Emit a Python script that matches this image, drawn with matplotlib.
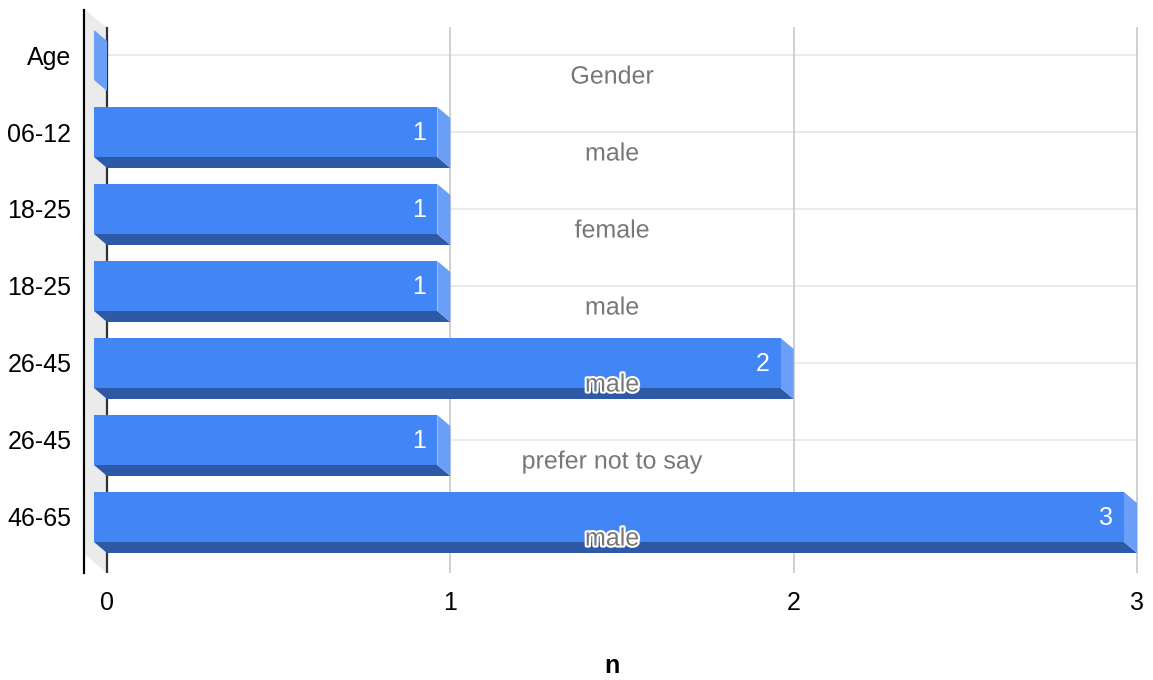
import matplotlib
matplotlib.use('Agg')
import matplotlib.pyplot as plt
import matplotlib.patheffects as pe
from matplotlib.patches import Polygon, Rectangle
from matplotlib.transforms import blended_transform_factory
plt.rcParams['font.family'] = ['Liberation Sans', 'DejaVu Sans']

# data
ages = ['Age', '06-12', '18-25', '18-25', '26-45', '26-45', '46-65']
genders = ['Gender', 'male', 'female', 'male', 'male', 'prefer not to say', 'male']
counts = [0, 1, 1, 1, 2, 1, 3]
xticks = [0, 1, 2, 3]

front_c = '#4285f4'
side_c = '#6b9ff7'
bottom_c = '#2d59a6'
wall_c = '#ebebeb'
fs = 18

W, H = 1153, 680
fig = plt.figure(figsize=(W / 100, H / 100), dpi=100)
# plot box in pixels: left 84, right 1140, top 10, bottom 573
ax = fig.add_axes([84 / W, 1 - 573 / H, (1140 - 84) / W, (573 - 10) / H])
ppx = (1137 - 107) / 3.0      # pixels per unit on x
ppy = 77.0                    # pixels per row
ax.set_xlim(-23 / ppx, 3 + 3 / ppx)
ax.set_ylim(6 + (573 - 517) / ppy, -(55 - 10) / ppy)

x0, x1 = ax.get_xlim()
ybot, ytop = ax.get_ylim()
DX = 13 / ppx     # 3d depth of bars
DY = 11 / ppy
WY = 18 / ppy     # slant of left wall
h = 25 / ppy      # half bar height

for s in ax.spines.values():
    s.set_visible(False)

# left wall and lines
ax.add_patch(Polygon([(x0 + 1.5 / ppx, ytop), (0, ytop + WY), (0, ybot), (x0 + 1.5 / ppx, ybot - WY)],
                     closed=True, facecolor=wall_c, edgecolor='none', zorder=0))
for i in range(len(ages)):
    ax.plot([0, 3], [i, i], color='#e6e6e6', lw=1.2, zorder=0.5)
for xt in xticks[1:]:
    ax.plot([xt, xt], [ytop + WY, ybot], color='#cccccc', lw=1.3, zorder=0.5)
ax.plot([0, 0], [ytop + WY, ybot], color='#333333', lw=1.6, zorder=0.6)
ax.plot([x0, x0], [ytop, ybot], color='black', lw=1.6, zorder=0.6, clip_on=False)

# 3d bars
for i, v in enumerate(counts):
    ax.add_patch(Polygon([(-DX, i + h), (v - DX, i + h), (v, i + h + DY), (0, i + h + DY)],
                         closed=True, facecolor=bottom_c, edgecolor='none', zorder=2))
    ax.add_patch(Polygon([(v - DX, i - h), (v, i - h + DY), (v, i + h + DY), (v - DX, i + h)],
                         closed=True, facecolor=side_c, edgecolor='none', zorder=2))
    if v > 0:
        ax.add_patch(Rectangle((-DX, i - h), v, 2 * h, facecolor=front_c,
                               edgecolor='none', zorder=3))
        ax.annotate(str(v), xy=(v - DX, i), xytext=(-8, -0.7), textcoords='offset points',
                    ha='right', va='center', color='white', fontsize=fs, zorder=5)

# gender annotations
bt = blended_transform_factory(ax.transAxes, ax.transData)
for i, g in enumerate(genders):
    ax.annotate(g, xy=(0.5, i), xycoords=bt, xytext=(0, -15.5), textcoords='offset points',
                ha='center', va='center', color='#777777', fontsize=fs, zorder=6,
                path_effects=[pe.withStroke(linewidth=3, foreground='white')])

ax.set_yticks(range(len(ages)))
ax.set_yticklabels(ages, fontsize=fs)
ax.set_xticks(xticks)
ax.set_xticklabels([str(t) for t in xticks], fontsize=fs)
ax.tick_params(axis='y', length=0, pad=9)
ax.tick_params(axis='x', length=0, pad=13)
ax.set_xlabel('n', fontsize=fs, fontweight='bold', labelpad=28)

fig.savefig('out.png', dpi=100)
